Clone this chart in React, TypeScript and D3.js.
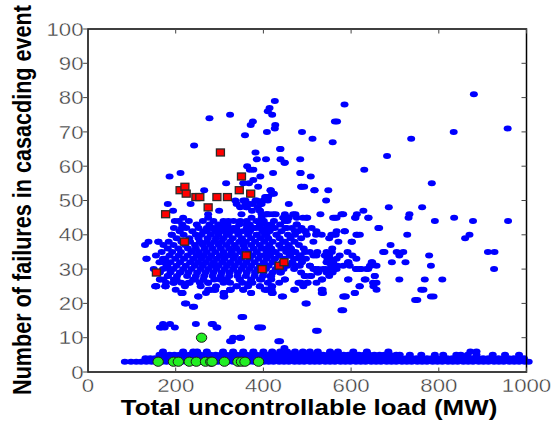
import React from "react";
import * as d3 from "d3";

// ---------- data ----------
const xTicks = [0, 200, 400, 600, 800, 1000];
const yTicks = [0, 10, 20, 30, 40, 50, 60, 70, 80, 90, 100];
const xLabel = "Total uncontrollable load (MW)";
const yLabel = "Number of failures in casacding event";

// scattered blue cases [load, failures]
const blueCloud: [number, number][] = [
  [277,74],[324,75],[358,69],[371,72],[376,73],[408,70],[410,76],[414,77],[420,75],[426,79],[426,71],[427,72],[488,70],[512,68],[563,73],[568,73],[585,78],[737,68],[834,70],[880,81],[957,71],
  [242,66],[558,67],[382,64],[439,65],[385,62],[406,62],[439,62],[448,61],[484,62],[363,60],[377,59],[422,58],[484,58],[508,57],[393,57],[211,58],[186,57],[315,55],[265,53],[367,55],[417,53],[420,52],[486,54],[493,54],[517,53],[548,53],[543,50],[234,49],[182,49],[299,47],[274,46],[274,45],[336,50],[359,50],[382,50],[404,51],[410,50],[359,49],[361,48],[376,49],[387,48],[393,49],[458,49],[374,47],[396,46],[413,46],[428,46],[449,46],[458,45],[468,46],[473,46],[490,45],[500,45],[530,46],[194,47],[198,44],[207,44],[217,45],[214,42],[191,40],[130,37],[138,38],[161,38],[133,33],[171,33],[173,32],[181,31],[186,30],[155,25],[177,25],[196,26],[213,23],[251,22],
  [550,39],[565,40],[557,36],[523,35],[540,34],[550,34],[547,32],[559,32],[567,33],[542,30],[525,29],[544,29],[558,30],[521,26],[533,24],[486,29],[501,26],[480,26],[442,22],[470,24],[421,23],[419,25],[392,25],[372,23],[354,24],[339,25],[326,24],[311,22],[310,23],[284,24],[274,24],[255,26],[244,27],[229,26],[210,29],[202,27],[182,28],[164,27],
  [682,63],[630,59],[784,55],[686,48],[762,48],[567,45],[582,46],[610,45],[613,46],[640,45],[731,45],[733,46],[791,44],[835,45],[878,44],[958,44],[496,41],[521,41],[520,40],[560,40],[567,41],[585,41],[571,38],[602,38],[614,40],[664,42],[690,37],[728,40],[860,39],[870,40],[912,35],[927,35],[926,30],[778,34],[782,31],[808,27],[768,27],[760,24],[782,22],[746,21],[673,35],[676,35],[704,35],[719,35],[710,34],[693,32],[724,32],[648,32],[645,31],[639,30],[623,30],[611,30],[654,28],[658,26],[651,25],[658,24],[633,27],[619,25],[608,23],[594,27],[585,22],[592,35],[603,34],[594,32],[556,35],[546,33],[546,32],[558,29],[560,30],[569,31],[550,28],[534,27],[535,24],[533,23],[485,34],[487,33],[506,35],[521,34],[506,31],[518,30],[523,29],[509,28],[494,28],[486,26],[491,25],[500,26],[710,27],[643,31],
  [369,59],[354,55],[377,56],[388,54],[354,50],[369,49],[385,50],[400,50],[411,51],[339,49],[347,48],[362,48],[350,46],[373,45],[392,47],[407,46],[271,41],[282,42],[293,42],[305,43],[301,41],[320,44],[331,42],[339,41],[316,40],[347,44],[362,43],[377,42],[392,42],[407,43],[369,41],[385,40],[404,40],
  [172,27],[195,26],[153,25],[176,25],[214,23],[252,22],[221,20],[239,19],[187,14],[164,13],[198,13],[246,14],[282,14],[293,13],[350,16],[388,13],[346,10],[324,9],[278,24],[290,24],[309,23],[324,24],[309,22],[274,26],[301,27],[316,27],[346,27],[369,26],[392,27],[407,24],
  [415,28],[438,29],[449,27],[403,24],[419,23],[445,22],[472,24],[483,26],[495,28],[506,28],[525,30],[536,30],[548,29],[559,31],[567,30],[533,27],[536,23],[593,27],[582,22],[609,23],[620,25],[631,27],[650,26],[654,28],[612,30],[620,30],[635,30],[647,32],[593,32],[544,32],[555,31],[496,20],[578,18],[520,12],[392,13],[472,31],[483,31],[506,31],[514,30],
  [438,65],[449,61],[485,58],[487,54],[516,53],[416,53],[424,52],[407,51],[396,49],[392,47],[422,46],[407,46],[396,45],[445,45],[476,45],[498,45],[578,46],[563,45],[609,45],[628,47],[639,45],[662,42],[422,42],[449,44],[453,42],[472,41],[487,42],[510,42],[476,43],[495,41],[533,40],[555,40],[586,41],[559,45],[612,40],[407,40],[430,40],[449,38],[472,40],[514,38],[601,38],[620,40],[403,36],[422,35],[449,36],[468,35],[495,35],[514,34],[544,35],[552,33],[574,34],[612,33],[582,31],[597,31],[555,31],[658,31],[407,34],[426,33],[460,34],[483,33],[476,31],
  [167,13],[175,13],[171,14],[285,14],[295,13],[331,10],[349,10],[354,16],[397,13],[438,9],[524,12],[582,18],[224,20],[242,19],[216,23],[499,20],[588,22],[751,21],[788,22],[765,24],[156,25],[328,9],[347,10],[434,9],[448,7],
];

// dense core of the cloud, one list of loads per failure count
const coreRows: [number, number[]][] = [
  [44, [230, 262, 286, 309, 332, 362, 384, 401, 424, 455]],
  [43, [215, 248, 277, 297, 318, 345, 369, 392, 418, 438, 476]],
  [42, [196, 224, 252, 271, 284, 301, 316, 338, 362, 383, 407, 426, 450, 465]],
  [41, [209, 238, 263, 290, 311, 326, 352, 369, 398, 414, 441, 479]],
  [40, [191, 218, 246, 259, 280, 297, 321, 343, 365, 385, 404, 430, 456, 499]],
  [39, [202, 231, 252, 273, 292, 309, 330, 351, 372, 393, 411, 437, 462, 486]],
  [38, [160, 184, 213, 233, 255, 271, 288, 305, 324, 345, 360, 381, 402, 421, 445, 471]],
  [37, [172, 195, 221, 244, 262, 279, 298, 316, 335, 354, 372, 392, 413, 436, 458, 481]],
  [36, [182, 206, 228, 246, 266, 284, 303, 322, 339, 357, 378, 396, 418, 441, 463, 492]],
  [35, [168, 192, 212, 236, 253, 271, 290, 309, 328, 347, 366, 385, 407, 428, 452, 473]],
  [34, [155, 186, 207, 227, 248, 263, 281, 301, 318, 335, 356, 375, 394, 415, 436, 461, 482]],
  [33, [134, 176, 199, 219, 240, 258, 276, 294, 311, 332, 349, 369, 389, 408, 426, 448, 470, 497]],
  [32, [163, 188, 210, 233, 251, 269, 287, 306, 324, 343, 361, 380, 401, 421, 443, 466, 488]],
  [31, [179, 202, 223, 244, 262, 281, 298, 317, 335, 354, 372, 392, 412, 433, 455]],
  [30, [150, 171, 195, 217, 236, 257, 275, 293, 312, 331, 350, 368, 386, 406, 428, 446, 470]],
  [29, [164, 188, 210, 229, 249, 268, 286, 305, 323, 342, 362, 381, 400, 421, 440]],
  [28, [182, 203, 226, 246, 265, 284, 303, 322, 341, 360, 380, 399, 418]],
  [27, [164, 196, 240, 263, 288, 316, 346, 372, 395, 418, 449]],
  [26, [178, 213, 232, 274, 309, 324, 352, 375, 410, 436]],
  [25, [155, 177, 221, 257, 292, 339, 365, 392, 420]],
  [24, [200, 278, 290, 324, 354, 407, 419]],
  [23, [214, 269, 310, 372, 421]],
];

// the low band of small events
const band3 = [84, 98, 110, 121, 133, 145, 156, 168, 179, 191, 202, 213, 225, 238, 249, 261, 272, 283, 296, 307, 318, 331, 342, 353, 366, 377, 388, 401, 412, 423, 436, 447, 458, 471, 482, 493, 506, 517, 528, 541, 552, 563, 576, 587, 598, 611, 622, 633, 646, 657, 668, 681, 692, 703, 716, 727, 738, 751, 762, 773, 786, 797, 808, 821, 832, 843, 856, 867, 878, 891, 902, 913, 926, 937, 948, 961, 972, 983, 996, 1005];
const band4 = [131, 142, 153, 164, 176, 188, 199, 211, 224, 235, 246, 259, 270, 282, 293, 305, 317, 329, 340, 352, 364, 376, 387, 399, 411, 422, 434, 446, 457, 469, 481, 492, 504, 516, 528, 539, 551, 562, 574, 586, 598, 609, 621, 633, 644, 656, 668, 679, 691, 703, 714, 726, 738, 749, 761, 773, 784, 796, 808, 819, 831, 843, 854, 866, 878, 889, 901, 913, 924, 936, 948, 959, 971, 983, 994];
const band5 = [163, 174, 186, 197, 209, 221, 232, 244, 256, 268, 279, 291, 303, 314, 326, 338, 349, 361, 373, 384, 396, 408, 419, 431, 443, 454, 466, 478, 489, 501, 513, 524, 536, 548, 559, 571, 583, 594, 606, 618, 630, 641, 653, 665, 676, 688, 703, 711, 734, 760, 791, 810, 840, 850, 866, 886, 923, 951, 983];
const band6 = [171, 217, 240, 249, 271, 308, 331, 354, 377, 400, 420, 438, 454, 472, 490, 506, 524, 552, 570, 605, 636, 685, 872, 886];

// highlighted cases
const redX = [302, 350, 210, 221, 224, 246, 255, 294, 318, 345, 371, 274, 177, 220, 361, 156, 397, 436, 447];
const redY = [64, 57, 53, 54, 52, 51, 51, 51, 51, 53, 52, 48, 46, 38, 34, 29, 30, 31, 32];
const greenX = [259, 160, 195, 206, 231, 247, 268, 280, 283, 311, 342, 350, 358, 389];
const greenY = [10, 3, 3, 3, 3, 3, 3, 3, 3, 3, 3, 3, 3, 3];

// ---------- chart ----------
const W = 555, H = 423;
const x = d3.scaleLinear().domain([0, 1000]).range([88, 526.5]);
const y = d3.scaleLinear().domain([0, 100]).range([372, 29]);
const SX = 1.2; // horizontal stretch of the original figure

export default function App() {
  const blue: [number, number][] = [
    ...blueCloud,
    ...coreRows.flatMap(([yy, xs]) => xs.map((xx) => [xx, yy] as [number, number])),
    ...band3.map((v) => [v, 3] as [number, number]),
    ...band4.map((v) => [v, 4] as [number, number]),
    ...band5.map((v) => [v, 5] as [number, number]),
    ...band6.map((v) => [v, 6] as [number, number]),
  ];
  const [x0, x1] = x.range();
  const [yb, yt] = y.range();
  const tickFont = { fontFamily: "'Liberation Sans', Arial, sans-serif", fontSize: 18.5, fill: "#3a3a3a", stroke: "#fff", strokeWidth: 0.35 } as const;
  const titleFont = { fontFamily: "'Liberation Sans', Arial, sans-serif", fontSize: 21.6, fontWeight: 700, fill: "#000" } as const;
  return (
    <svg width={W} height={H} viewBox={`0 0 ${W} ${H}`} style={{ position: "absolute", left: 0, top: 0, background: "#fff" }}>
      <rect x={0} y={0} width={W} height={H} fill="#fff" />
      {/* markers */}
      <g fill="#0000ff">
        {blue.map(([a, b], i) => (
          <ellipse key={i} cx={x(a)} cy={y(b)} rx={4} ry={3} />
        ))}
      </g>
      <g>
        {redX.map((v, i) => (
          <rect key={i} x={x(v) - 4} y={y(redY[i]) - 3.5} width={8} height={7} fill="#ff0000" stroke="#2a2a2a" strokeWidth={1.3} />
        ))}
      </g>
      <g>
        {greenX.map((v, i) => (
          <ellipse key={i} cx={x(v)} cy={y(greenY[i])} rx={5.2} ry={4.6} fill="#22ee22" stroke="#1a1a1a" strokeWidth={1} />
        ))}
      </g>
      {/* frame */}
      <rect x={x0} y={yt} width={x1 - x0} height={yb - yt} fill="none" stroke="#000" strokeWidth={1.5} />
      {/* ticks */}
      <g stroke="#444" strokeWidth={1}>
        {xTicks.map((t) => (
          <g key={"xt" + t}>
            <line x1={x(t)} x2={x(t)} y1={yb} y2={yb - 4.5} />
            <line x1={x(t)} x2={x(t)} y1={yt} y2={yt + 4.5} />
          </g>
        ))}
        {yTicks.map((t) => (
          <g key={"yt" + t}>
            <line x1={x0} x2={x0 - 6} y1={y(t)} y2={y(t)} />
            <line x1={x1} x2={x1 - 5} y1={y(t)} y2={y(t)} />
          </g>
        ))}
      </g>
      {/* tick labels */}
      {xTicks.map((t) => (
        <text key={"xl" + t} transform={`translate(${x(t)},391.5) scale(${SX},1)`} textAnchor="middle" {...tickFont}>
          {t}
        </text>
      ))}
      {yTicks.map((t) => (
        <text key={"yl" + t} transform={`translate(83.5,${y(t) + 6.6}) scale(${SX},1)`} textAnchor="end" {...tickFont}>
          {t}
        </text>
      ))}
      {/* titles */}
      <text transform={`translate(309,415) scale(${SX},1)`} textAnchor="middle" {...titleFont}>
        {xLabel}
      </text>
      <text transform={`translate(30.5,200) scale(${SX},1) rotate(-90)`} textAnchor="middle" {...titleFont}>
        {yLabel}
      </text>
    </svg>
  );
}
